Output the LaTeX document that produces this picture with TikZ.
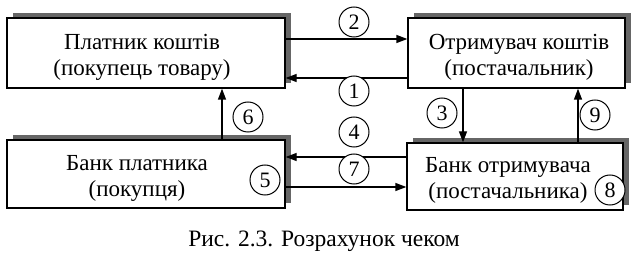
\documentclass[tikz,border=0pt]{standalone}
\usepackage{fontspec}
\setmainfont{Liberation Serif}
\usetikzlibrary{arrows.meta,shadows}
\tikzset{
  box/.style={draw, line width=1.3pt, fill=white, inner sep=0pt,
    drop shadow={shadow xshift=6pt, shadow yshift=5pt, fill=black!60, opacity=1}},
  boxtext/.style={align=center, font=\fontsize{23}{26}\selectfont, inner sep=0pt},
  num/.style={draw, circle, line width=1pt, minimum size=30pt, inner sep=0pt, fill=white,
    font=\fontsize{22}{22}\selectfont},
  arr/.style={line width=1.3pt, -{Triangle[length=11pt,width=8pt]}},
}
\begin{document}
\begin{tikzpicture}[x=1pt,y=1pt]
\useasboundingbox (0,0) rectangle (643,268);
% boxes
\node[box, minimum width=278pt, minimum height=70pt] (b1) at (146,215) {};
\node[box, minimum width=217pt, minimum height=70pt] (b2) at (516.5,215) {};
\node[box, minimum width=278pt, minimum height=68pt] (b3) at (146,94) {};
\node[box, minimum width=216pt, minimum height=67pt] (b4) at (515,91.5) {};
% texts
\node[boxtext] (t1) at (142,211) {Платник коштів\\(покупець товару)};
\node[boxtext] (t2) at (519,211) {Отримувач коштів\\(постачальник)};
\node[boxtext] (t3) at (137,90) {Банк платника\\(покупця)};
\node[boxtext] (t4) at (508,88) {Банк отримувача\\(постачальника)};
% helper coordinates
\coordinate (y2) at (0,229);
\coordinate (y1) at (0,190);
\coordinate (y4) at (0,111);
\coordinate (y7) at (0,81);
\coordinate (x6) at (222,0);
\coordinate (x3) at (463,0);
\coordinate (x9) at (578,0);
% connectors
\draw[arr] (b1.east |- y2) -- (b2.west |- y2);
\draw[arr] (b2.west |- y1) -- (b1.east |- y1);
\draw[arr] (b4.west |- y4) -- (b3.east |- y4);
\draw[arr] (b3.east |- y7) -- (b4.west |- y7);
\draw[arr] (b3.north -| x6) -- (b1.south -| x6);
\draw[arr] (b2.south -| x3) -- (b4.north -| x3);
\draw[arr] (b4.north -| x9) -- (b2.south -| x9);
% numbers
\node[num] (n2) at (354,246) {2};
\node[num] (n1) at (354,177) {1};
\node[num] (n4) at (354,136) {4};
\node[num] (n7) at (354,99) {7};
\node[num] (n3) at (442,155) {3};
\node[num] (n9) at (595,153) {9};
\node[num] (n6) at (248,151) {6};
\node[num] (n5) at (265,88) {5};
\node[num] (n8) at (610,78) {8};
% caption
\node[font=\fontsize{23.5}{23.5}\selectfont, anchor=base] (cap) at (324,21) {Рис. 2.3. Розрахунок чеком};
\end{tikzpicture}
\end{document}
